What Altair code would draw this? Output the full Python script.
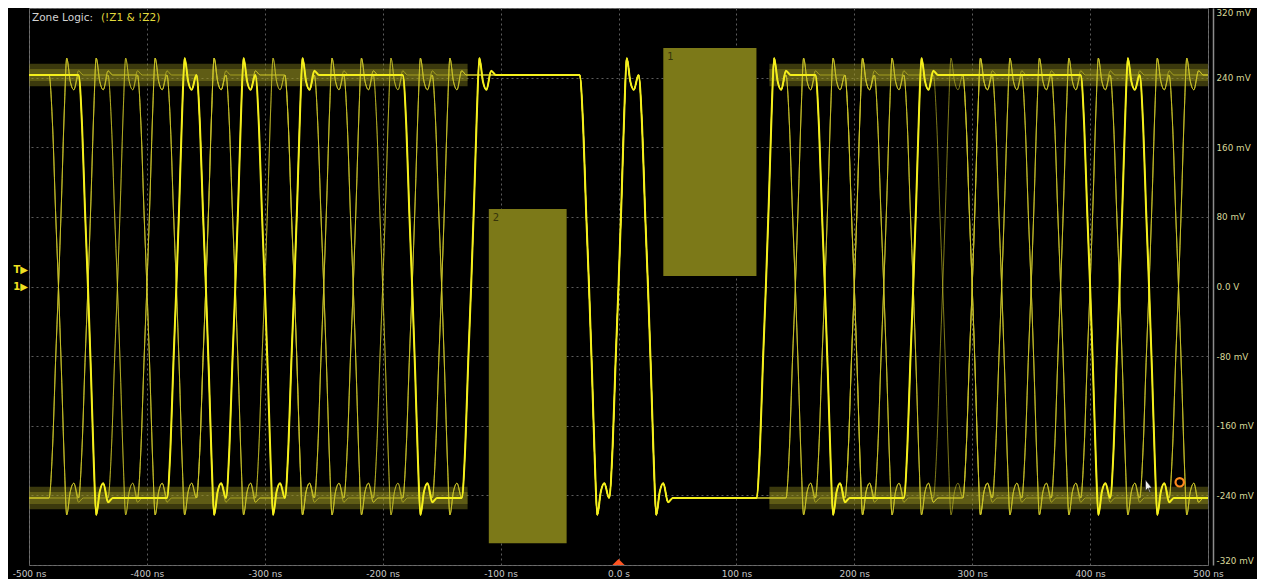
import altair as alt
import pandas as pd

# serial signal: one bit every 25 ns from -500 ns, levels about +-243 mV
UI_NS = 25
T_START = -500
T_END = 500
LEVEL_MV = 243

# last acquisition (bright trace), read bit by bit off the screen
bright_bits = "1100010101111001111010000110001111110100"

# persistence traces (dim); -125..125 ns is the same pattern in all of them
dim_left = [
    "010110100101101", "101001011010010", "011010110100110", "100101001011001",
    "001101011001010", "110010100110101", "010011010101100", "101100101010011",
]
dim_mid = "1111010000"
dim_right = [
    "010110010110100", "101001101001011", "011010010101101", "100101101010010",
    "110100101100101", "001011010011010", "101010011010110", "010101100101001",
]

# shape of one transition: time offset from the bit boundary (ns)
# and how far from the old to the new level the trace is (overshoot > 1)
EDGE_DT = [-8, -5, -2.5, 0, 2.5, 5, 7, 10, 13, 17, 21]
EDGE_F = [0, 0.12, 0.32, 0.5, 0.7, 0.92, 1.04, 0.985, 0.965, 1.01, 1.0]

# noisy persistence bands on the two logic levels (outer, then inner)
band_t0 = [-500, 128, -500, 128, -500, 128, -500, 128]
band_t1 = [-128, 500, -128, 500, -128, 500, -128, 500]
band_v0 = [230, 230, -256, -256, 236, 236, -250, -250]
band_v1 = [256, 256, -230, -230, 250, 250, -236, -236]

# mask zones
zone_names = ["1", "2"]
zone_t0 = [38, -110]
zone_t1 = [117, -44]
zone_v0 = [12, -295]
zone_v1 = [274, 89]

x_ticks = [-500, -400, -300, -200, -100, 0, 100, 200, 300, 400, 500]
y_ticks = [-320, -240, -160, -80, 0, 80, 160, 240, 320]


def trace_rows(bits, name):
    levels = [LEVEL_MV if b == "1" else -LEVEL_MV for b in bits]
    flips = [k for k in range(1, len(bits)) if bits[k] != bits[k - 1]]
    rows = [(name, T_START, levels[0])]
    for i, k in enumerate(flips):
        b = T_START + k * UI_NS
        if i + 1 < len(flips):
            stop = T_START + flips[i + 1] * UI_NS + EDGE_DT[0]
        else:
            stop = T_END
        old, new = levels[k - 1], levels[k]
        for dt, f in zip(EDGE_DT, EDGE_F):
            if b + dt < stop:
                rows.append((name, b + dt, old + (new - old) * f))
    rows.append((name, T_END, levels[-1]))
    return rows


dim_rows = []
for i, (left, right) in enumerate(zip(dim_left, dim_right)):
    dim_rows += trace_rows(left + dim_mid + right, f"acq{i}")
dim_df = pd.DataFrame(dim_rows, columns=["trace", "t", "v"])
bright_df = pd.DataFrame(trace_rows(bright_bits, "last"), columns=["trace", "t", "v"])

band_df = pd.DataFrame({"t0": band_t0, "t1": band_t1, "v0": band_v0, "v1": band_v1})
zone_df = pd.DataFrame({"name": zone_names, "t0": zone_t0, "t1": zone_t1,
                        "v0": zone_v0, "v1": zone_v1})

x_axis = alt.Axis(values=x_ticks, title="", grid=True, gridColor="#5c5c5c",
                  gridDash=[2, 3], ticks=False, domain=False, labelFlush=False,
                  labelColor="#c8c8c8", labelFont="DejaVu Sans", labelFontSize=9,
                  labelPadding=4, labelBaseline="top",
                  labelExpr="datum.value == 0 ? '0.0 s' : datum.value + ' ns'")
y_axis = alt.Axis(values=y_ticks, title="", orient="right", grid=True,
                  gridColor="#5c5c5c", gridDash=[2, 3], ticks=False, offset=5,
                  domainColor="#8c8c8c", domainWidth=1.5, labelFlush=True,
                  labelColor="#d8d89a", labelFont="DejaVu Sans", labelFontSize=8.8,
                  labelPadding=3,
                  labelExpr="datum.value == 0 ? '0.0 V' : datum.value + ' mV'")
x_scale = alt.Scale(domain=[T_START, T_END], nice=False, zero=False)
y_scale = alt.Scale(domain=[-320, 320], nice=False, zero=False)

bands = alt.Chart(band_df).mark_rect(color="#9a9622", opacity=0.38).encode(
    x=alt.X("t0:Q", scale=x_scale, axis=x_axis),
    x2="t1:Q",
    y=alt.Y("v0:Q", scale=y_scale, axis=y_axis),
    y2="v1:Q",
)

dim = alt.Chart(dim_df).mark_line(
    color="#d0ca2a", strokeWidth=1, opacity=0.6, interpolate="monotone"
).encode(
    x=alt.X("t:Q", scale=x_scale, axis=x_axis),
    y=alt.Y("v:Q", scale=y_scale, axis=y_axis),
    detail="trace:N",
)

bright = alt.Chart(bright_df).mark_line(
    color="#f4ef1c", strokeWidth=2, interpolate="monotone"
).encode(
    x=alt.X("t:Q", scale=x_scale, axis=x_axis),
    y=alt.Y("v:Q", scale=y_scale, axis=y_axis),
)

zones = alt.Chart(zone_df).mark_rect(color="#7c7918").encode(
    x="t0:Q", x2="t1:Q", y="v0:Q", y2="v1:Q"
)
zone_text = alt.Chart(zone_df).mark_text(
    align="left", baseline="top", dx=4, dy=4, color="#36340a",
    font="DejaVu Sans", fontSize=10
).encode(x="t0:Q", y="v1:Q", text="name:N")

# screen annotations, pinned to the corner of the graticule
corner_df = pd.DataFrame({"t": [T_START], "v": [320]})
logic_label = alt.Chart(corner_df).mark_text(
    align="left", baseline="middle", dx=3, dy=10, color="#d4d4d4",
    font="DejaVu Sans", fontSize=10.5, text="Zone Logic:"
).encode(x="t:Q", y="v:Q")
logic_expr = alt.Chart(corner_df).mark_text(
    align="left", baseline="middle", dx=72, dy=10, color="#e2da3c",
    font="DejaVu Sans", fontSize=10.5, text="(!Z1 & !Z2)"
).encode(x="t:Q", y="v:Q")

marker_df = pd.DataFrame({"t": [T_START, T_START], "v": [19, 0], "label": ["T▶", "1▶"]})
markers = alt.Chart(marker_df).mark_text(
    align="right", baseline="middle", dx=-1, color="#f0e020",
    font="DejaVu Sans", fontSize=10, fontWeight="bold"
).encode(x="t:Q", y="v:Q", text="label:N")

trig_df = pd.DataFrame({"t": [0], "v": [-316.5]})
trigger = alt.Chart(trig_df).mark_point(
    shape="M-1,0.5L0,-0.5L1,0.5Z", filled=True, color="#ff5422", size=150, opacity=1
).encode(x="t:Q", y="v:Q")

ring_df = pd.DataFrame({"t": [476], "v": [-225]})
ring = alt.Chart(ring_df).mark_point(
    filled=False, color="#ff8a1e", strokeWidth=2.2, size=70, opacity=1
).encode(x="t:Q", y="v:Q")

cursor_df = pd.DataFrame({"t": [447], "v": [-230]})
cursor = alt.Chart(cursor_df).mark_point(
    shape="M0,-1L0,0.6L0.35,0.25L0.6,0.85L0.75,0.78L0.5,0.2L0.95,0.2Z",
    filled=True, fill="#f0f0f0", stroke="#202020", strokeWidth=0.6, size=180, opacity=1
).encode(x="t:Q", y="v:Q")

chart = alt.layer(
    bands, dim, bright, zones, zone_text, logic_label, logic_expr,
    markers, trigger, ring, cursor
).properties(
    width=1179,
    height=557,
    autosize=alt.AutoSizeParams(type="none"),
    padding={"left": 21, "top": 0, "right": 49, "bottom": 14},
    background="#000000",
).configure_view(
    fill="#000000", stroke="#6e6e6e", strokeWidth=1
)

chart.save("out.html", embed_options={"renderer": "svg", "actions": False})
